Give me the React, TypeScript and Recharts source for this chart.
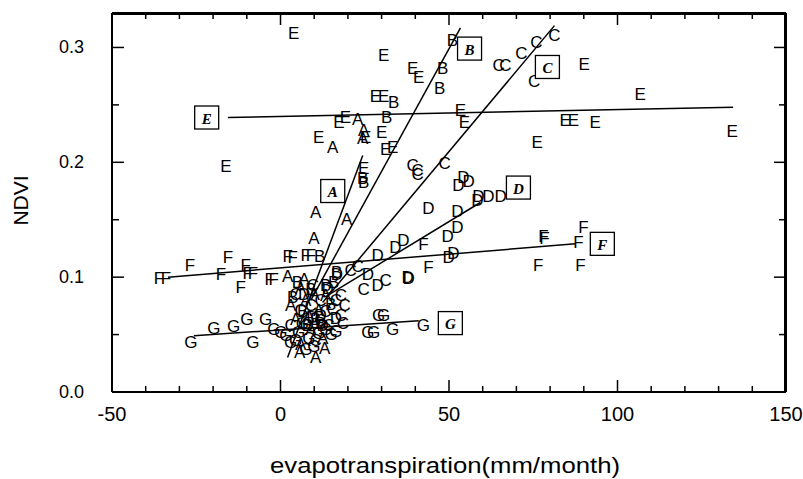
import React from 'react';
import { ScatterChart, Scatter, XAxis, YAxis } from 'recharts';

type P = { x: number; y: number };

const xTicks = [-50, -40, -30, -20, -10, 0, 10, 20, 30, 40, 50, 60, 70, 80, 90, 100, 110, 120, 130, 140, 150];
const yTicks = [0, 0.05, 0.1, 0.15, 0.2, 0.25, 0.3];
const xDomain: [number, number] = [-50, 150];
const yDomain: [number, number] = [0, 0.33];

const pointsA: P[] = [
  { x: 15.5, y: 0.213 }, { x: 22.9, y: 0.237 }, { x: 24.4, y: 0.221 }, { x: 24.7, y: 0.228 },
  { x: 10.4, y: 0.156 }, { x: 19.6, y: 0.15 }, { x: 9.9, y: 0.134 }, { x: 2.1, y: 0.101 },
  { x: 5.7, y: 0.034 }, { x: 10.4, y: 0.03 }, { x: 13.1, y: 0.038 },
  { x: 6.0, y: 0.09 }, { x: 7.5, y: 0.08 }, { x: 11.3, y: 0.071 }, { x: 4.5, y: 0.063 },
  { x: 9.0, y: 0.054 }, { x: 13.4, y: 0.084 }, { x: 6.0, y: 0.041 },
  { x: 3.0, y: 0.075 }, { x: 8.4, y: 0.066 }, { x: 12.5, y: 0.047 }, { x: 7.0, y: 0.098 }, { x: 10.0, y: 0.085 },
];
const pointsB: P[] = [
  { x: 51.0, y: 0.306 }, { x: 48.1, y: 0.282 }, { x: 47.2, y: 0.264 }, { x: 33.6, y: 0.252 },
  { x: 31.5, y: 0.239 }, { x: 24.4, y: 0.186 }, { x: 24.7, y: 0.182 }, { x: 11.6, y: 0.118 },
  { x: 16.7, y: 0.104 }, { x: 15.8, y: 0.095 },
  { x: 3.6, y: 0.082 }, { x: 9.0, y: 0.089 }, { x: 14.9, y: 0.076 }, { x: 10.4, y: 0.063 }, { x: 13.4, y: 0.093 },
  { x: 6.6, y: 0.07 }, { x: 11.9, y: 0.06 }, { x: 5.0, y: 0.095 }, { x: 8.0, y: 0.058 },
];
const pointsC: P[] = [
  { x: 81.3, y: 0.31 }, { x: 75.9, y: 0.304 }, { x: 71.5, y: 0.295 }, { x: 64.7, y: 0.284 },
  { x: 66.7, y: 0.284 }, { x: 75.3, y: 0.27 }, { x: 39.2, y: 0.197 }, { x: 40.7, y: 0.193 },
  { x: 40.7, y: 0.189 }, { x: 48.7, y: 0.199 }, { x: 20.8, y: 0.106 }, { x: 22.9, y: 0.109 },
  { x: 24.7, y: 0.089 }, { x: 31.2, y: 0.097 },
  { x: 6.0, y: 0.071 }, { x: 11.9, y: 0.08 }, { x: 16.4, y: 0.08 }, { x: 17.9, y: 0.067 },
  { x: 7.5, y: 0.058 }, { x: 3.0, y: 0.058 }, { x: 14.3, y: 0.058 }, { x: 9.6, y: 0.093 }, { x: 17.9, y: 0.084 },
  { x: 4.5, y: 0.085 }, { x: 13.4, y: 0.07 }, { x: 9.0, y: 0.075 }, { x: 15.5, y: 0.072 },
  { x: 10.4, y: 0.045 }, { x: 19.0, y: 0.075 }, { x: 18.5, y: 0.06 },
];
const pointsD: P[] = [
  { x: 54.3, y: 0.187 }, { x: 55.8, y: 0.183 }, { x: 52.8, y: 0.18 }, { x: 58.4, y: 0.167 },
  { x: 58.7, y: 0.17 }, { x: 61.7, y: 0.17 }, { x: 65.3, y: 0.17 }, { x: 43.9, y: 0.16 },
  { x: 52.5, y: 0.157 }, { x: 52.5, y: 0.143 }, { x: 49.6, y: 0.135 }, { x: 34.1, y: 0.126 },
  { x: 36.5, y: 0.132 }, { x: 49.9, y: 0.117 }, { x: 51.3, y: 0.121 }, { x: 37.7, y: 0.1 },
  { x: 38.0, y: 0.099 }, { x: 25.9, y: 0.102 }, { x: 28.8, y: 0.093 }, { x: 28.8, y: 0.119 },
  { x: 16.7, y: 0.102 }, { x: 11.9, y: 0.067 }, { x: 16.4, y: 0.064 }, { x: 12.5, y: 0.058 },
  { x: 7.0, y: 0.085 }, { x: 14.0, y: 0.09 }, { x: 9.5, y: 0.065 },
];
const pointsE: P[] = [
  { x: 3.9, y: 0.312 }, { x: 30.6, y: 0.293 }, { x: 39.2, y: 0.282 }, { x: 41.0, y: 0.274 },
  { x: 28.2, y: 0.257 }, { x: 30.6, y: 0.257 }, { x: 17.3, y: 0.235 }, { x: 19.3, y: 0.239 },
  { x: 11.3, y: 0.222 }, { x: 30.0, y: 0.226 }, { x: 25.3, y: 0.222 }, { x: 31.2, y: 0.211 },
  { x: 33.3, y: 0.213 }, { x: 24.7, y: 0.195 }, { x: -16.2, y: 0.196 }, { x: 53.4, y: 0.245 },
  { x: 54.6, y: 0.235 }, { x: 90.1, y: 0.285 }, { x: 106.7, y: 0.259 }, { x: 84.5, y: 0.236 },
  { x: 86.9, y: 0.236 }, { x: 93.4, y: 0.235 }, { x: 76.2, y: 0.217 }, { x: 134.0, y: 0.227 },
];
const pointsF: P[] = [
  { x: -36.1, y: 0.099 }, { x: -34.0, y: 0.099 }, { x: -26.9, y: 0.11 }, { x: -17.7, y: 0.102 },
  { x: -15.6, y: 0.117 }, { x: -10.3, y: 0.11 }, { x: -9.7, y: 0.103 }, { x: -11.8, y: 0.091 },
  { x: -8.2, y: 0.103 }, { x: -3.2, y: 0.098 }, { x: -2.0, y: 0.098 }, { x: 2.1, y: 0.118 },
  { x: 3.6, y: 0.117 }, { x: 7.5, y: 0.119 }, { x: 9.0, y: 0.119 }, { x: 42.4, y: 0.128 },
  { x: 43.9, y: 0.108 }, { x: 78.0, y: 0.135 }, { x: 78.3, y: 0.134 }, { x: 89.9, y: 0.143 },
  { x: 88.4, y: 0.13 }, { x: 76.5, y: 0.11 }, { x: 89.0, y: 0.11 },
];
const pointsG: P[] = [
  { x: -26.6, y: 0.043 }, { x: -19.8, y: 0.055 }, { x: -13.9, y: 0.057 }, { x: -10.0, y: 0.063 },
  { x: -8.2, y: 0.043 }, { x: -4.4, y: 0.063 }, { x: -2.0, y: 0.054 }, { x: 0.1, y: 0.052 },
  { x: 1.6, y: 0.049 }, { x: 3.0, y: 0.043 }, { x: 16.4, y: 0.053 }, { x: 25.9, y: 0.052 },
  { x: 29.1, y: 0.067 }, { x: 30.6, y: 0.067 }, { x: 27.6, y: 0.052 }, { x: 33.3, y: 0.054 },
  { x: 42.4, y: 0.058 }, { x: 5.4, y: 0.052 }, { x: 8.4, y: 0.047 }, { x: 11.3, y: 0.051 },
  { x: 13.4, y: 0.054 }, { x: 4.5, y: 0.045 },
  { x: 6.5, y: 0.06 }, { x: 9.9, y: 0.04 }, { x: 12.0, y: 0.062 }, { x: 15.0, y: 0.05 }, { x: 7.5, y: 0.037 },
];

const lineA: P[] = [{ x: 2.1, y: 0.03 }, { x: 24.4, y: 0.206 }];
const lineB: P[] = [{ x: 9.0, y: 0.08 }, { x: 53.4, y: 0.317 }];
const lineC: P[] = [{ x: 12.5, y: 0.078 }, { x: 81.3, y: 0.319 }];
const lineD: P[] = [{ x: 13.4, y: 0.083 }, { x: 59.3, y: 0.165 }];
const lineE: P[] = [{ x: -15.6, y: 0.239 }, { x: 134.3, y: 0.248 }];
const lineF: P[] = [{ x: -33.4, y: 0.1 }, { x: 87.5, y: 0.129 }];
const lineG: P[] = [{ x: -25.7, y: 0.049 }, { x: 41.0, y: 0.062 }];

const boxLabels = [
  { x: 15.5, y: 0.175, name: 'A' },
  { x: 56.1, y: 0.299, name: 'B' },
  { x: 79.2, y: 0.283, name: 'C' },
  { x: 70.6, y: 0.178, name: 'D' },
  { x: -21.9, y: 0.239, name: 'E' },
  { x: 95.5, y: 0.129, name: 'F' },
  { x: 50.4, y: 0.06, name: 'G' },
];

const xTitle = 'evapotranspiration(mm/month)';
const yTitle = 'NDVI';

const SANS = "'Liberation Sans', Arial, Helvetica, sans-serif";
const SERIF = "'Liberation Serif', 'Times New Roman', serif";

const isMajorX = (v: number) => Math.abs(v % 50) < 1e-9;
const isMajorY = (v: number) => Math.abs(Math.round(v * 10) - v * 10) < 1e-6;
const num = (v: any) => (typeof v === 'number' && isFinite(v) ? v : Number(v));

const BottomTick = (p: any) => {
  const v = p.payload.value;
  const major = isMajorX(v);
  return (
    <g>
      <line x1={p.x} x2={p.x} y1={p.y} y2={p.y - (major ? 12 : 6)} stroke="#000" strokeWidth={1.5} />
      {major && (
        <text x={p.x} y={p.y + 22} textAnchor="middle" dominantBaseline="central" fontSize={20} fontFamily={SANS} fill="#000">
          {v}
        </text>
      )}
    </g>
  );
};
// top frame edge: drawn once, by the first top tick, across the axis width
const TopTick = (p: any) => {
  const v = p.payload.value;
  const major = isMajorX(v);
  const w = num(p.width);
  return (
    <g>
      <line x1={p.x} x2={p.x} y1={p.y} y2={p.y + (major ? 12 : 6)} stroke="#000" strokeWidth={1.5} />
      {p.index === 0 && w > 0 && (
        <line x1={p.x - 1} x2={p.x + w + 1} y1={p.y + 1} y2={p.y + 1} stroke="#000" strokeWidth={2} />
      )}
    </g>
  );
};
const LeftTick = (p: any) => {
  const v = p.payload.value;
  const major = isMajorY(v);
  return (
    <g>
      <line x1={p.x} x2={p.x + (major ? 12 : 7)} y1={p.y} y2={p.y} stroke="#000" strokeWidth={1.5} />
      {major && (
        <text x={p.x - 28} y={p.y} textAnchor="end" dominantBaseline="central" fontSize={18} fontFamily={SANS} fill="#000">
          {v.toFixed(1)}
        </text>
      )}
    </g>
  );
};
// right frame edge: drawn once, by the bottom right tick, across the axis height
const RightTick = (p: any) => {
  const v = p.payload.value;
  const major = isMajorY(v);
  const h = num(p.height);
  return (
    <g>
      <line x1={p.x} x2={p.x - (major ? 12 : 7)} y1={p.y} y2={p.y} stroke="#000" strokeWidth={1.5} />
      {p.index === 0 && h > 0 && (
        <line x1={p.x - 1} x2={p.x - 1} y1={p.y + 1} y2={p.y - h - 1} stroke="#000" strokeWidth={2} />
      )}
    </g>
  );
};

const YLabel = (props: any) => {
  const vb = props.viewBox || { x: 0, y: 5, width: 104, height: 379 };
  const cx = vb.x + 12;
  const cy = vb.y + vb.height / 2 - 2;
  return (
    <text x={cx} y={cy} transform={`rotate(-90 ${cx} ${cy})`} textAnchor="middle" dominantBaseline="central" fontSize={21} fontFamily={SANS} fill="#000">
      {yTitle}
    </text>
  );
};

const XLabel = (props: any) => {
  const vb = props.viewBox || { x: 104, y: 384, width: 674, height: 87 };
  const cx = vb.x + vb.width / 2 - 4;
  const cy = vb.y + 73;
  return (
    <text x={cx} y={cy} textAnchor="middle" dominantBaseline="central" fontSize={22} textLength={350} lengthAdjust="spacingAndGlyphs" fontFamily={SANS} fill="#000">
      {xTitle}
    </text>
  );
};

const letterShape = (ch: string) => (props: any) => (
  <text x={props.cx} y={props.cy} textAnchor="middle" dominantBaseline="central" fontSize={17} fontFamily={SANS} fill="#000">
    {ch}
  </text>
);

const BoxShape = (props: any) => {
  const { cx, cy, payload } = props;
  return (
    <g>
      <rect x={cx - 12} y={cy - 11.5} width={24} height={23} fill="#fff" stroke="#000" strokeWidth={1.3} />
      <text x={cx} y={cy + 1} textAnchor="middle" dominantBaseline="central" fontSize={15} fontWeight="bold" fontStyle="italic" fontFamily={SERIF} fill="#000">
        {payload.name}
      </text>
    </g>
  );
};

const noShape = () => <g />;
const lineStyle = { stroke: '#000', strokeWidth: 1.5 };

export default function App() {
  return (
    <div style={{ width: 795, height: 471, padding: '8px 0 0 8px', background: '#fff' }}>
      <style>{'body{margin:0}'}</style>
      <ScatterChart width={795} height={471} margin={{ top: 4, right: 16, bottom: 0, left: 0 }}>
        <XAxis
          xAxisId={0}
          type="number"
          dataKey="x"
          domain={xDomain}
          ticks={xTicks}
          interval={0}
          height={87}
          tickSize={0}
          tickMargin={0}
          tickLine={false}
          tick={<BottomTick />}
          axisLine={{ stroke: '#000', strokeWidth: 2 }}
          label={<XLabel />}
        />
        <XAxis
          xAxisId="top"
          orientation="top"
          type="number"
          dataKey="x"
          domain={xDomain}
          ticks={xTicks}
          interval={0}
          height={1}
          tickSize={0}
          tickMargin={0}
          tickLine={false}
          tick={<TopTick />}
          axisLine={{ stroke: '#000', strokeWidth: 2 }}
        />
        <YAxis
          yAxisId={0}
          type="number"
          dataKey="y"
          domain={yDomain}
          ticks={yTicks}
          interval={0}
          width={104}
          tickSize={0}
          tickMargin={0}
          tickLine={false}
          tick={<LeftTick />}
          axisLine={{ stroke: '#000', strokeWidth: 2 }}
          label={<YLabel />}
        />
        <YAxis
          yAxisId="right"
          orientation="right"
          type="number"
          dataKey="y"
          domain={yDomain}
          ticks={yTicks}
          interval={0}
          width={1}
          tickSize={0}
          tickMargin={0}
          tickLine={false}
          tick={<RightTick />}
          axisLine={{ stroke: '#000', strokeWidth: 2 }}
        />

        <Scatter data={lineA} line={lineStyle} shape={noShape} isAnimationActive={false} />
        <Scatter data={lineB} line={lineStyle} shape={noShape} isAnimationActive={false} />
        <Scatter data={lineC} line={lineStyle} shape={noShape} isAnimationActive={false} />
        <Scatter data={lineD} line={lineStyle} shape={noShape} isAnimationActive={false} />
        <Scatter data={lineE} line={lineStyle} shape={noShape} isAnimationActive={false} />
        <Scatter data={lineF} line={lineStyle} shape={noShape} isAnimationActive={false} />
        <Scatter data={lineG} line={lineStyle} shape={noShape} isAnimationActive={false} />

        <Scatter data={pointsA} shape={letterShape('A')} isAnimationActive={false} />
        <Scatter data={pointsB} shape={letterShape('B')} isAnimationActive={false} />
        <Scatter data={pointsC} shape={letterShape('C')} isAnimationActive={false} />
        <Scatter data={pointsD} shape={letterShape('D')} isAnimationActive={false} />
        <Scatter data={pointsE} shape={letterShape('E')} isAnimationActive={false} />
        <Scatter data={pointsF} shape={letterShape('F')} isAnimationActive={false} />
        <Scatter data={pointsG} shape={letterShape('G')} isAnimationActive={false} />

        <Scatter data={boxLabels} xAxisId="top" yAxisId="right" shape={BoxShape} isAnimationActive={false} />
      </ScatterChart>
    </div>
  );
}
